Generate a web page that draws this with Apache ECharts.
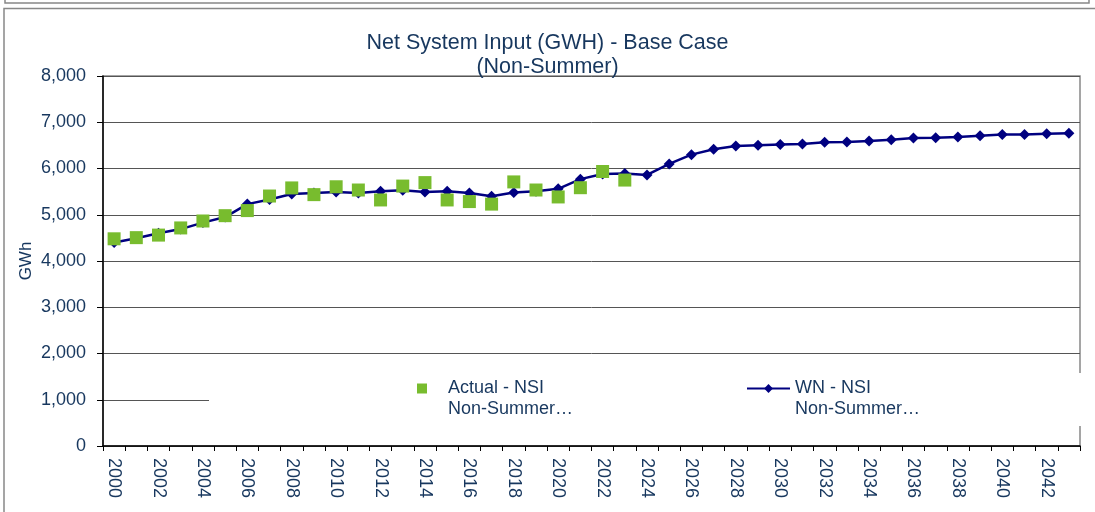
<!DOCTYPE html>
<html>
<head>
<meta charset="utf-8">
<script src="https://cdn.jsdelivr.net/npm/echarts@6/dist/echarts.min.js"></script>
<style>
html,body{margin:0;padding:0;background:#fff;}
#c{width:1095px;height:512px;}
</style>
</head>
<body>
<div id="c"></div>
<script>
const years = [];
for (let y = 2000; y <= 2043; y++) years.push(String(y));

const actualNSI = [4480, 4505, 4560, 4715, 4865, 4980, 5090, 5405, 5580, 5435,
  5605, 5535, 5320, 5620, 5695, 5320, 5285, 5230, 5710, 5535,
  5385, 5585, 5935, 5750, null, null, null, null, null, null,
  null, null, null, null, null, null, null, null, null, null,
  null, null, null, null];

const wnNSI = [4400, 4490, 4600, 4690, 4830, 4950, 5230, 5330, 5450, 5470,
  5490, 5470, 5510, 5530, 5490, 5510, 5470, 5400, 5480, 5510,
  5560, 5770, 5880, 5890, 5860, 6100, 6300, 6415, 6485, 6505,
  6520, 6530, 6565, 6575, 6595, 6620, 6660, 6665, 6680, 6710,
  6735, 6735, 6750, 6760];

const seriesNames = ['Actual - NSI\nNon-Summer…', 'WN - NSI\nNon-Summer…'];
const titleText = 'Net System Input (GWH) - Base Case\n(Non-Summer)';

const txt = '#17375e';
const ff = 'Liberation Sans, Arial, sans-serif';
const chart = echarts.init(document.getElementById('c'));
chart.setOption({
  animation: false,
  backgroundColor: '#fff',
  textStyle: { fontFamily: ff },
  title: {
    text: titleText,
    left: 'center',
    top: 26,
    textStyle: { color: txt, fontSize: 21.5, fontWeight: 'normal', lineHeight: 24, fontFamily: ff }
  },
  graphic: [
    { type: 'rect', z: 0, shape: { x: 5, y: -10, width: 1084, height: 13 }, style: { fill: 'none', stroke: '#888', lineWidth: 1.5 } },
    { type: 'rect', z: 0, shape: { x: 4, y: 8.5, width: 1100, height: 520 }, style: { fill: 'none', stroke: '#888', lineWidth: 1.5 } },
    { type: 'rect', z: 3, shape: { x: 209, y: 373, width: 874, height: 53 }, style: { fill: '#fff' } }
  ],
  grid: { left: 103, right: 15, top: 76, bottom: 66, show: true, borderColor: '#888', borderWidth: 1.5 },
  legend: [
    {
      data: [seriesNames[0]], left: 417, top: 357, itemWidth: 10, itemHeight: 10, padding: 0,
      z: 5, formatter: n => ' \n' + n,
      textStyle: { color: txt, fontSize: 18, lineHeight: 21, padding: [0, 0, 0, 16] }
    },
    {
      data: [seriesNames[1]], left: 746, top: 357, itemWidth: 43, itemHeight: 11, padding: 0,
      z: 5, formatter: n => ' \n' + n,
      textStyle: { color: txt, fontSize: 18, lineHeight: 21 }
    }
  ],
  xAxis: {
    type: 'category', data: years, boundaryGap: true,
    axisLine: { lineStyle: { color: '#000', width: 1.5 } },
    axisTick: { show: true, interval: 0, length: 5, lineStyle: { color: '#000' } },
    axisLabel: { interval: 1, rotate: -90, color: txt, fontSize: 18, margin: 12 }
  },
  yAxis: {
    type: 'value', min: 0, max: 8000, interval: 1000,
    name: 'GWh', nameLocation: 'middle', nameGap: 68, nameRotate: 90, nameMoveOverlap: false,
    nameTextStyle: { color: txt, fontSize: 17 },
    axisLine: { show: true, lineStyle: { color: '#000', width: 1.5 } },
    axisTick: { show: true, length: 6, lineStyle: { color: '#000' } },
    axisLabel: { color: txt, fontSize: 18, margin: 17, formatter: v => v.toLocaleString('en-US') },
    splitLine: { lineStyle: { color: '#555', width: 1 } }
  },
  series: [
    {
      name: seriesNames[0], type: 'scatter', data: actualNSI, symbol: 'rect', symbolSize: 13,
      itemStyle: { color: '#78bc2e', opacity: 1 }, z: 3
    },
    {
      name: seriesNames[1], type: 'line', data: wnNSI, symbol: 'diamond', symbolSize: 11,
      lineStyle: { color: '#000080', width: 2.5 }, itemStyle: { color: '#000080' }, z: 2
    }
  ]
});
</script>
</body>
</html>
